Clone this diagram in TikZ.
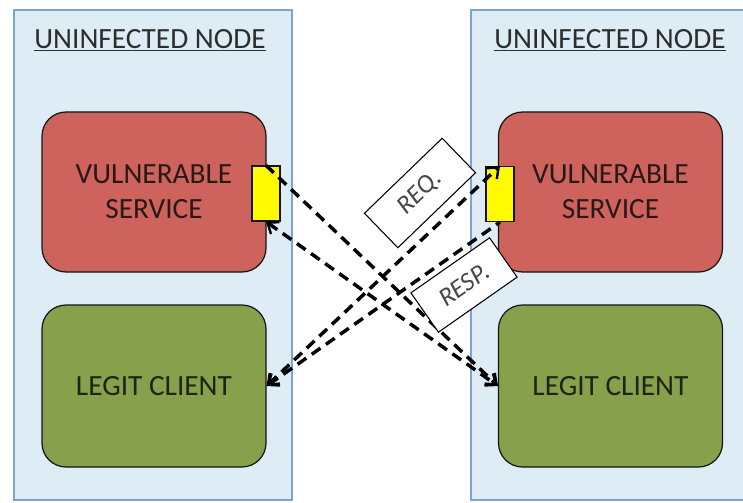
\documentclass[tikz,border=0pt]{standalone}
\usepackage{fontspec}
\setmainfont{Carlito}
\usepackage{tikz}
\usetikzlibrary{arrows.meta}

\begin{document}
\begin{tikzpicture}[x=0.75pt,y=0.75pt,yscale=-1,xscale=1,
  hostbox/.style={draw={rgb,255:red,125;green,163;blue,211},fill={rgb,255:red,222;green,237;blue,245},line width=1.4pt,minimum width=208.5pt,minimum height=367.5pt,inner sep=0pt},
  hosttitle/.style={text={rgb,255:red,45;green,45;blue,45},font=\fontsize{22}{26}\selectfont,inner sep=0pt},
  servicebox/.style={draw={rgb,255:red,20;green,20;blue,20},fill={rgb,255:red,206;green,98;blue,92},line width=0.9pt,rounded corners=18pt,minimum width=168pt,minimum height=120pt,align=center,text={rgb,255:red,40;green,25;blue,25},font=\fontsize{22}{26}\selectfont},
  clientbox/.style={draw={rgb,255:red,20;green,20;blue,20},fill={rgb,255:red,134;green,160;blue,75},line width=0.9pt,rounded corners=18pt,minimum width=168pt,minimum height=121.5pt,align=center,text={rgb,255:red,30;green,35;blue,20},font=\fontsize{22}{26}\selectfont},
  portbox/.style={draw={rgb,255:red,20;green,20;blue,20},fill={rgb,255:red,255;green,250;blue,0},line width=0.9pt,minimum width=21pt,minimum height=41.25pt,inner sep=0pt},
  msg/.style={line width=2.6pt,dash pattern=on 8pt off 5pt,black},
  msgtip/.tip={Straight Barb[length=7pt,width=11pt,line width=1.8pt]},
  tag/.style={draw,line width=0.8pt,fill=white,solid,minimum height=36pt,text={rgb,255:red,70;green,70;blue,70},font=\fontsize{19.5}{21}\selectfont\itshape}
]
\useasboundingbox (0,0) rectangle (743,503);

% Hosts
\node [hostbox] (lhost) at (153,255) {};
\node [hostbox] (rhost) at (610,255) {};
% Text Node
\node [hosttitle] (ltitle) at (150,40) {\underline{UNINFECTED NODE}};
% Text Node
\node [hosttitle] (rtitle) at (610,40) {\underline{UNINFECTED NODE}};

% Services and clients
\node [servicebox] (lservice) at (154,192) {VULNERABLE\\SERVICE};
\node [servicebox] (rservice) at (610.5,192) {VULNERABLE\\SERVICE};
\node [clientbox] (lclient) at (154,386) {LEGIT CLIENT};
\node [clientbox] (rclient) at (610.5,386) {LEGIT CLIENT};

% Ports
\node [portbox] (lport) at (266,193.5) {};
\node [portbox] (rport) at (500,194) {};

% Left client -> right service
\draw [msg,{msgtip}-{msgtip}] (lclient.east) -- (rport.north);
\draw [msg,{msgtip}-] (lclient.east) -- (rport.south);

% Right client -> left service
\draw [msg,-{msgtip}] (lport.north) -- (rclient.west);
\draw [msg,{msgtip}-{msgtip}] (lport.south) -- (rclient.west);

% Text Node
\node [tag,minimum width=81pt,rotate=44] (req) at (420,193) {REQ.};
% Text Node
\node [tag,minimum width=72pt,rotate=35] (resp) at (464,285) {RESP.};

\end{tikzpicture}
\end{document}
